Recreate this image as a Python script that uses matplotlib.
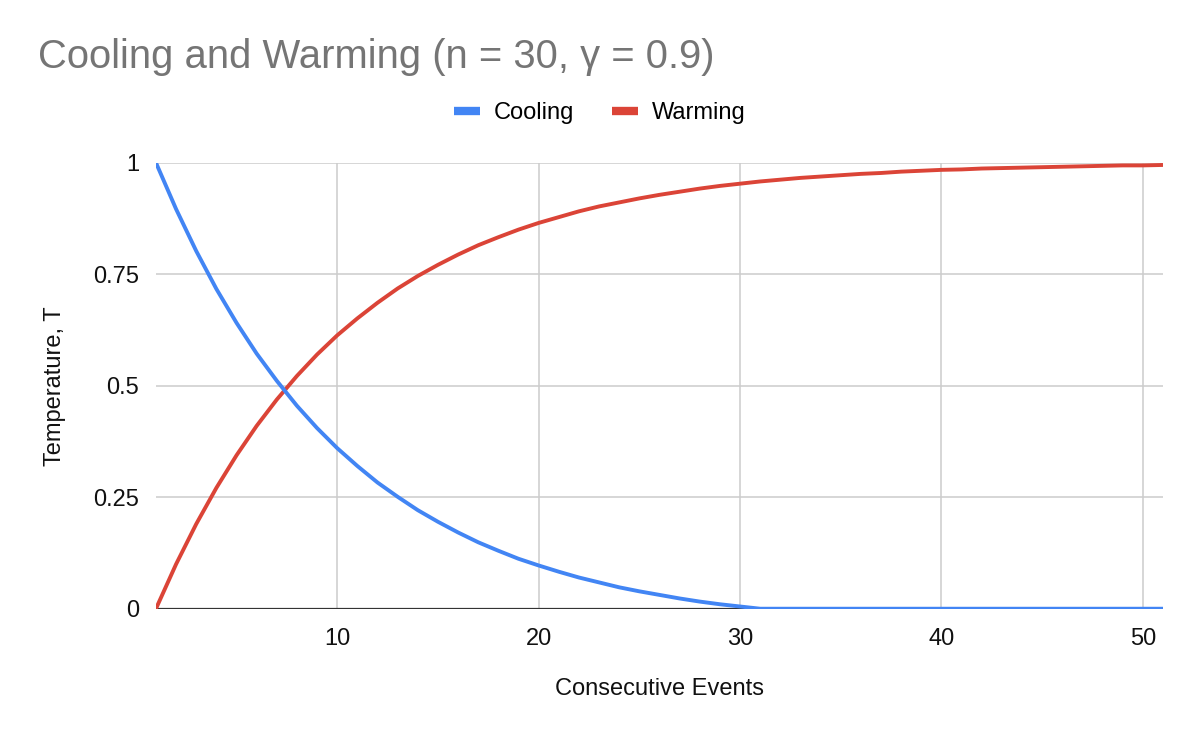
import matplotlib
matplotlib.use("Agg")
import matplotlib.pyplot as plt
from matplotlib.lines import Line2D

plt.rcParams['font.family'] = ['Liberation Sans', 'DejaVu Sans']

# Data: temperature after each consecutive event
events = list(range(1, 52))
cooling = [1.0, 0.896, 0.802, 0.717, 0.641, 0.572, 0.511, 0.455, 0.405, 0.360,
           0.320, 0.283, 0.251, 0.221, 0.195, 0.171, 0.149, 0.130, 0.112, 0.097,
           0.083, 0.070, 0.059, 0.048, 0.039, 0.031, 0.023, 0.016, 0.010, 0.005,
           0.0, 0.0, 0.0, 0.0, 0.0, 0.0, 0.0, 0.0, 0.0, 0.0,
           0.0, 0.0, 0.0, 0.0, 0.0, 0.0, 0.0, 0.0, 0.0, 0.0, 0.0]
warming = [0.0, 0.100, 0.190, 0.271, 0.344, 0.410, 0.469, 0.522, 0.570, 0.613,
           0.651, 0.686, 0.718, 0.746, 0.771, 0.794, 0.815, 0.833, 0.850, 0.865,
           0.878, 0.891, 0.902, 0.911, 0.920, 0.928, 0.935, 0.942, 0.948, 0.953,
           0.958, 0.962, 0.966, 0.969, 0.972, 0.975, 0.977, 0.980, 0.982, 0.984,
           0.985, 0.987, 0.988, 0.989, 0.990, 0.991, 0.992, 0.993, 0.994, 0.994, 0.995]

x_ticks = [10, 20, 30, 40, 50]
y_ticks = [0, 0.25, 0.5, 0.75, 1]
y_tick_labels = ['0', '0.25', '0.5', '0.75', '1']

blue = '#4285F4'
red = '#DB4437'
text_col = '#111111'

fig = plt.figure(figsize=(11.96, 7.4), dpi=100)
ax = fig.add_axes([0.1304, 0.1774, 0.8420, 0.6027])

ax.plot(events, warming, color=red, lw=2.8, zorder=3, solid_capstyle='butt')
ax.plot(events, cooling, color=blue, lw=2.8, zorder=4, solid_capstyle='butt')

ax.set_xlim(1, 51)
ax.set_ylim(0, 1)
ax.set_xticks(x_ticks)
ax.set_yticks(y_ticks)
ax.set_yticklabels(y_tick_labels)
ax.tick_params(length=0, labelsize=17, colors=text_col)
ax.tick_params(axis='x', pad=14)
ax.tick_params(axis='y', pad=12)

ax.grid(True, color='#cccccc', lw=1.1, zorder=0)
ax.set_axisbelow(True)
for s in ax.spines.values():
    s.set_visible(False)
ax.axhline(0, color='#333333', lw=1.6, zorder=2)

ax.set_xlabel('Consecutive Events', fontsize=17, color=text_col, labelpad=20)
ax.set_ylabel('Temperature, T', fontsize=17, color=text_col, labelpad=20)

fig.text(38 / 1196, 1 - 57 / 740, 'Cooling and Warming (n = 30, \u03b3 = 0.9)',
         fontsize=28.8, color='#757575', ha='left', va='center')

handles = [Line2D([0], [0], color=blue, lw=6, solid_capstyle='butt'),
           Line2D([0], [0], color=red, lw=6, solid_capstyle='butt')]
fig.legend(handles, ['Cooling', 'Warming'], loc='center',
           bbox_to_anchor=(600 / 1196, 1 - 113 / 740), ncol=2, frameon=False,
           fontsize=17, handlelength=1.1, handletextpad=0.6, columnspacing=1.6)

fig.savefig('out.png', dpi=100)
